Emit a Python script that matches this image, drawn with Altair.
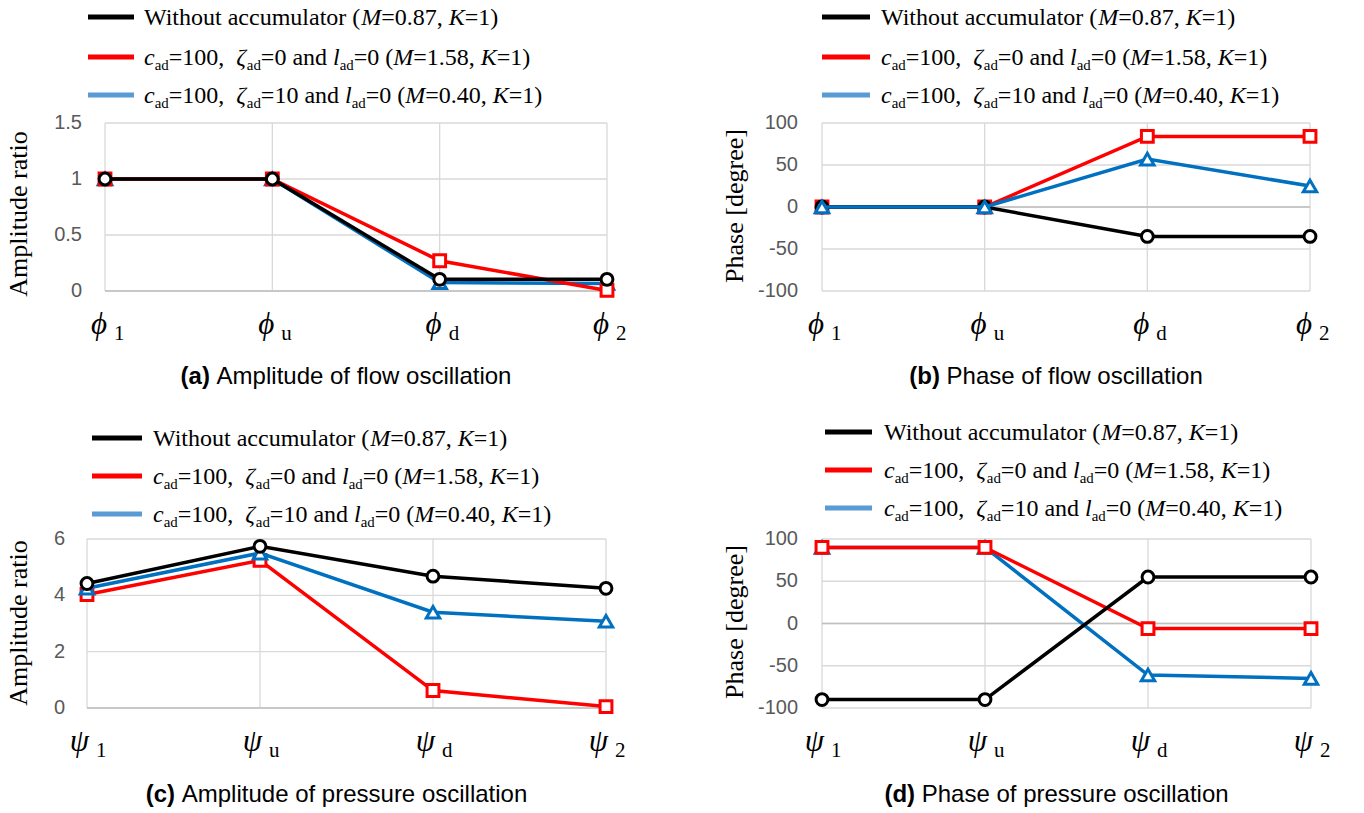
import altair as alt
import pandas as pd

# ---------------- data ----------------
positions = [0, 1, 2, 3]
phi_symbol = "\u03d5"
psi_symbol = "\u03c8"
station_subs = ["1", "u", "d", "2"]

flow_amp_without = [1.0, 1.0, 0.104, 0.104]
flow_amp_zeta0 = [1.0, 1.0, 0.27, 0.005]
flow_amp_zeta10 = [1.0, 1.0, 0.075, 0.068]

flow_phase_without = [0.0, 0.0, -35.0, -35.0]
flow_phase_zeta0 = [0.0, 0.0, 84.0, 84.0]
flow_phase_zeta10 = [0.0, 0.0, 57.0, 25.0]

pres_amp_without = [4.42, 5.74, 4.68, 4.25]
pres_amp_zeta0 = [4.03, 5.24, 0.62, 0.05]
pres_amp_zeta10 = [4.25, 5.50, 3.40, 3.08]

pres_phase_without = [-90.0, -90.0, 55.0, 55.0]
pres_phase_zeta0 = [90.0, 90.0, -6.0, -6.0]
pres_phase_zeta10 = [90.0, 90.0, -61.0, -65.0]

amp_flow_ticks = [0, 0.5, 1, 1.5]
amp_flow_tick_labels = ["0", "0.5", "1", "1.5"]
phase_ticks = [-100, -50, 0, 50, 100]
phase_tick_labels = ["-100", "-50", "0", "50", "100"]
amp_pres_ticks = [0, 2, 4, 6]
amp_pres_tick_labels = ["0", "2", "4", "6"]

legend_rows = [
    [("Without accumulator (", "n"), ("M", "i"), ("=0.87, ", "n"), ("K", "i"), ("=1)", "n")],
    [("c", "i"), ("ad", "s"), ("=100,  ", "n"), ("\u03b6", "i"), ("ad", "s"), ("=0 and ", "n"),
     ("l", "i"), ("ad", "s"), ("=0 (", "n"), ("M", "i"), ("=1.58, ", "n"), ("K", "i"), ("=1)", "n")],
    [("c", "i"), ("ad", "s"), ("=100,  ", "n"), ("\u03b6", "i"), ("ad", "s"), ("=10 and ", "n"),
     ("l", "i"), ("ad", "s"), ("=0 (", "n"), ("M", "i"), ("=0.40, ", "n"), ("K", "i"), ("=1)", "n")],
]
legend_colors = ["#000000", "#FF0000", "#5B9BD5"]

panel_titles = [("(a)", "Amplitude of flow oscillation"), ("(b)", "Phase of flow oscillation"),
                ("(c)", "Amplitude of pressure oscillation"), ("(d)", "Phase of pressure oscillation")]
y_titles = ["Amplitude ratio", "Phase [degree]", "Amplitude ratio", "Phase [degree]"]

# ---------------- styles / layout ----------------
SERIF = "Liberation Serif"
SANS = "Liberation Sans"
STYLE = {
    "without": dict(color="#000000", shape="circle", size=140),
    "zeta0": dict(color="#FF0000", shape="square", size=140),
    "zeta10": dict(color="#0070C0", shape="triangle-up", size=180),
}

# plot boxes: L, R, T, B
BOX = {
    "a": (105, 607, 123, 291),
    "b": (822, 1310, 123, 291),
    "c": (87, 606, 539, 708),
    "d": (822, 1311, 539, 708),
}

TNR_R = {' ': 250, '(': 333, ')': 333, ',': 250, '.': 250, '=': 564, 'a': 444, 'c': 444, 'd': 500,
         'n': 500, 'h': 500, 'i': 278, 'o': 500, 't': 278, 'u': 500, 'W': 944, 'm': 778, 'l': 278,
         'r': 333, 's': 389, 'e': 444, 'g': 500}
for _d in "0123456789":
    TNR_R[_d] = 500
TNR_I = {'c': 444, 'l': 278, 'M': 833, 'K': 667, '\u03b6': 440}
ARIAL_R = {' ': 278, 'A': 667, 'P': 667, 'm': 833, 'p': 556, 'l': 222, 'i': 222, 't': 278, 'u': 556,
           'd': 556, 'e': 556, 'o': 556, 'f': 278, 'w': 722, 's': 500, 'c': 500, 'a': 556, 'n': 556,
           'r': 333, 'h': 556}
ARIAL_B = {'(': 333, ')': 333, 'a': 556, 'b': 611, 'c': 556, 'd': 611, ' ': 278}


def width(text, table, size):
    return sum(table.get(ch, 500) for ch in text) / 1000.0 * size


text_rows = []


def typeset(segs, x0, y_base, size, color="black"):
    x = x0
    for text, style in segs:
        if style == "s":
            fs, dy, table, st = size * 0.62, size * 0.2, TNR_R, "normal"
        elif style == "i":
            fs, dy, table, st = size, 0.0, TNR_I, "italic"
        else:
            fs, dy, table, st = size, 0.0, TNR_R, "normal"
        lead = len(text) - len(text.lstrip(" "))
        text_rows.append(dict(text=text.strip(), px=x + width(" " * lead, table, fs), py=y_base + dy,
                              size=fs, fam="serif", st=st, wt="normal", col=color))
        x += width(text, table, fs)


# legends
LEG = {
    "a": dict(x1=88, x2=134, tx=144, ys=[17, 57, 95]),
    "b": dict(x1=822, x2=870, tx=881, ys=[17, 57, 95]),
    "c": dict(x1=92, x2=142, tx=153, ys=[438, 476, 514]),
    "d": dict(x1=825, x2=872, tx=884, ys=[432, 470, 508]),
}
LEG_SIZE = 24
rule_rows = []
for k, lg in LEG.items():
    for r, (segs, col, y) in enumerate(zip(legend_rows, legend_colors, lg["ys"])):
        rule_rows.append(dict(x1=lg["x1"], x2=lg["x2"], y=y, col=col))
        typeset(segs, lg["tx"], y + 8, LEG_SIZE)

# panel titles
TITLE_SIZE = 24
for k, (bold, rest), ty in zip("abcd", panel_titles, [384, 384, 802, 802]):
    L, R, T, B = BOX[k]
    cx = (L + R) / 2 - 10
    wb = width(bold + " ", ARIAL_B, TITLE_SIZE)
    wr = width(rest, ARIAL_R, TITLE_SIZE)
    x0 = cx - (wb + wr) / 2
    text_rows.append(dict(text=bold, px=x0, py=ty, size=TITLE_SIZE, fam="sans", st="normal", wt="bold", col="black"))
    text_rows.append(dict(text=rest, px=x0 + wb, py=ty, size=TITLE_SIZE, fam="sans", st="normal", wt="normal", col="black"))

text_df = pd.DataFrame(text_rows)
rule_df = pd.DataFrame(rule_rows)

ytitle_df = pd.DataFrame({
    "text": y_titles,
    "px": [19, 735, 19, 735],
    "py": [214, 206, 623, 622],
})


def text_layer(fam, st, wt):
    sub = text_df[(text_df.fam == fam) & (text_df.st == st) & (text_df.wt == wt)]
    return alt.Chart(sub).mark_text(
        align="left", baseline="alphabetic", font=SERIF if fam == "serif" else SANS,
        fontStyle=st, fontWeight=wt
    ).encode(
        x=alt.X("px:Q", scale=None, axis=None),
        y=alt.Y("py:Q", scale=None, axis=None),
        size=alt.Size("size:Q", scale=None, legend=None),
        color=alt.Color("col:N", scale=None, legend=None),
        text="text:N",
    )


def panel(key, ydom, ticks, tick_labels, values, order, sym, gap):
    L, R, T, B = BOX[key]
    xs = alt.Scale(domain=[0, 3], range=[L, R], nice=False, zero=False)
    ys = alt.Scale(domain=ydom, range=[B, T], nice=False, zero=False)
    layers = []
    gdf = pd.DataFrame({"v": ticks, "x0": 0, "x1": 3})
    layers.append(alt.Chart(gdf).mark_rule(color="#D9D9D9", strokeWidth=1.3).encode(
        x=alt.X("x0:Q", scale=xs, axis=None), x2="x1:Q", y=alt.Y("v:Q", scale=ys, axis=None)))
    vdf = pd.DataFrame({"i": positions, "y0": ydom[0], "y1": ydom[1]})
    layers.append(alt.Chart(vdf).mark_rule(color="#D9D9D9", strokeWidth=1.3).encode(
        x=alt.X("i:Q", scale=xs, axis=None), y=alt.Y("y0:Q", scale=ys, axis=None), y2="y1:Q"))
    zdf = pd.DataFrame({"v": [0], "x0": [0], "x1": [3]})
    layers.append(alt.Chart(zdf).mark_rule(color="#BFBFBF", strokeWidth=1.3).encode(
        x=alt.X("x0:Q", scale=xs, axis=None), x2="x1:Q", y=alt.Y("v:Q", scale=ys, axis=None)))
    for name in order:
        s = STYLE[name]
        df = pd.DataFrame({"i": positions, "v": values[name]})
        base = alt.Chart(df).encode(x=alt.X("i:Q", scale=xs, axis=None), y=alt.Y("v:Q", scale=ys, axis=None))
        layers.append(base.mark_line(color=s["color"], strokeWidth=3.5))
        layers.append(base.mark_point(shape=s["shape"], filled=True, fill="white", stroke=s["color"],
                                      strokeWidth=3, size=s["size"], opacity=1))
    tdf = pd.DataFrame({"v": ticks, "lab": tick_labels, "x0": 0})
    layers.append(alt.Chart(tdf).mark_text(align="right", baseline="middle", dx=-gap, font=SANS,
                                           fontSize=20, color="#595959").encode(
        x=alt.X("x0:Q", scale=xs, axis=None), y=alt.Y("v:Q", scale=ys, axis=None), text="lab:N"))
    cdf = pd.DataFrame({"i": positions, "sym": [sym] * 4, "sub": station_subs, "y0": ydom[0]})
    layers.append(alt.Chart(cdf).mark_text(align="right", baseline="alphabetic", dx=2, dy=43, font=SERIF,
                                           fontStyle="italic", fontSize=31, color="black").encode(
        x=alt.X("i:Q", scale=xs, axis=None), y=alt.Y("y0:Q", scale=ys, axis=None), text="sym:N"))
    layers.append(alt.Chart(cdf).mark_text(align="left", baseline="alphabetic", dx=9, dy=49, font=SERIF,
                                           fontSize=21, color="black").encode(
        x=alt.X("i:Q", scale=xs, axis=None), y=alt.Y("y0:Q", scale=ys, axis=None), text="sub:N"))
    return alt.layer(*layers)


pA = panel("a", [0, 1.5], amp_flow_ticks, amp_flow_tick_labels,
           {"without": flow_amp_without, "zeta0": flow_amp_zeta0, "zeta10": flow_amp_zeta10},
           ["zeta10", "zeta0", "without"], phi_symbol, 23)
pB = panel("b", [-100, 100], phase_ticks, phase_tick_labels,
           {"without": flow_phase_without, "zeta0": flow_phase_zeta0, "zeta10": flow_phase_zeta10},
           ["zeta0", "without", "zeta10"], phi_symbol, 24)
pC = panel("c", [0, 6], amp_pres_ticks, amp_pres_tick_labels,
           {"without": pres_amp_without, "zeta0": pres_amp_zeta0, "zeta10": pres_amp_zeta10},
           ["zeta0", "zeta10", "without"], psi_symbol, 22)
pD = panel("d", [-100, 100], phase_ticks, phase_tick_labels,
           {"without": pres_phase_without, "zeta0": pres_phase_zeta0, "zeta10": pres_phase_zeta10},
           ["zeta10", "zeta0", "without"], psi_symbol, 24)

legend_rules = alt.Chart(rule_df).mark_rule(strokeWidth=5, strokeCap="butt").encode(
    x=alt.X("x1:Q", scale=None, axis=None), x2="x2:Q",
    y=alt.Y("y:Q", scale=None, axis=None),
    color=alt.Color("col:N", scale=None, legend=None),
)

ytitles = alt.Chart(ytitle_df).mark_text(angle=270, align="center", baseline="middle", font=SERIF,
                                         fontSize=26, color="black").encode(
    x=alt.X("px:Q", scale=None, axis=None), y=alt.Y("py:Q", scale=None, axis=None), text="text:N")

chart = alt.layer(
    pA, pB, pC, pD, legend_rules,
    text_layer("serif", "normal", "normal"),
    text_layer("serif", "italic", "normal"),
    text_layer("sans", "normal", "normal"),
    text_layer("sans", "normal", "bold"),
    ytitles,
).resolve_scale(x="independent", y="independent").properties(
    width=1364, height=813, autosize=alt.AutoSizeParams(type="none"), padding=0,
    background="white",
).configure_view(stroke=None)

chart.save("out.html", embed_options={"renderer": "svg", "actions": False})
